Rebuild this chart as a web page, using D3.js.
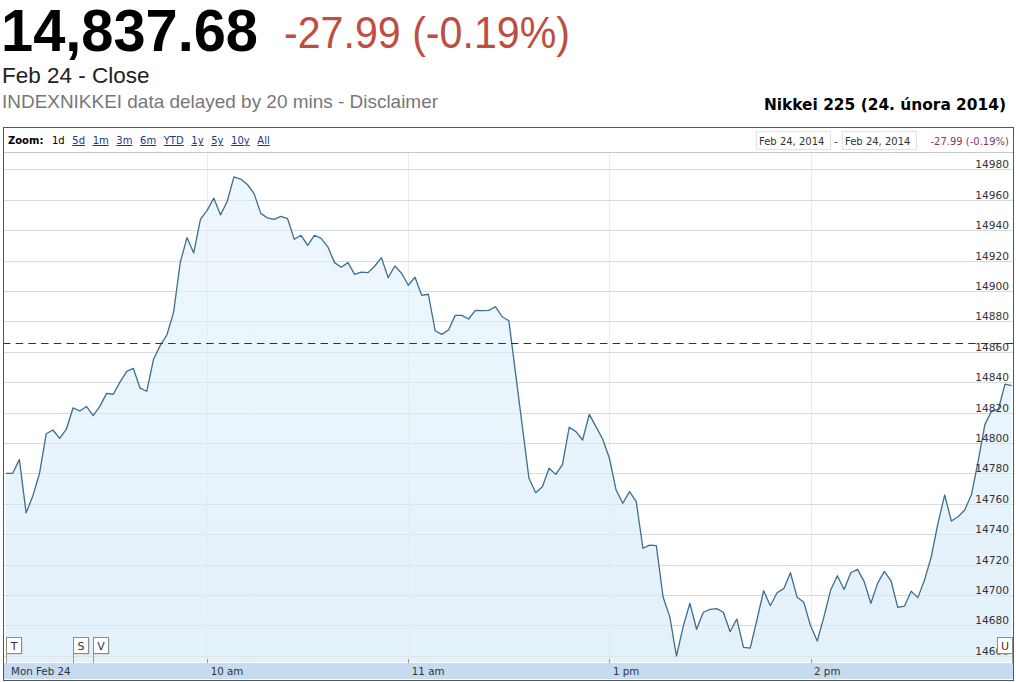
<!DOCTYPE html>
<html>
<head>
<meta charset="utf-8">
<script src="https://cdn.jsdelivr.net/npm/d3@7"></script>
<style>
  html, body { margin: 0; padding: 0; background: #fff; }
  svg { display: block; }
</style>
</head>
<body>
<svg id="chart" width="1016" height="682"></svg>
<script>
// ---------------- DATA ----------------
const lastPrice = "14,837.68";
const changeText = "-27.99 (-0.19%)";
const sessionText = "Feb 24 - Close";
const delayText = "INDEXNIKKEI data delayed by 20 mins - Disclaimer";
const chartTitle = "Nikkei 225 (24. února 2014)";
const previousClose = 14865.67;

const zoomLabel = "Zoom:";
const zoomOptions = ["1d", "5d", "1m", "3m", "6m", "YTD", "1y", "5y", "10y", "All"];
const selectedZoom = "1d";
const rangeFrom = "Feb 24, 2014";
const rangeTo = "Feb 24, 2014";

// morning session: 09:00 .. 11:30, every 2 minutes
const morningStart = "09:00";
const morningValues = [
  14780, 14780, 14789, 14754, 14765, 14780, 14806, 14808.5, 14803, 14809,
  14823, 14821, 14824, 14818, 14824, 14832.6, 14832, 14840, 14847, 14849,
  14836, 14834, 14855, 14864, 14871, 14886, 14919, 14935, 14925, 14947,
  14953, 14961, 14950, 14959, 14975, 14973.6, 14970, 14964, 14951, 14948,
  14947, 14949, 14947.5, 14934, 14936.6, 14930, 14936.6, 14934.6, 14929, 14918.6,
  14915.5, 14918.6, 14910.9, 14912.4, 14912, 14916.4, 14921.9, 14908.7, 14916.4, 14911.6,
  14903.7, 14909, 14897.1, 14897.8, 14873.8, 14871.4, 14874.3, 14883.9, 14883.9, 14881.5,
  14887.2, 14887, 14887.2, 14889.6, 14883, 14880.4
];
// afternoon session: 12:36 .. 15:00, every 2 minutes
const afternoonStart = "12:36";
const afternoonValues = [
  14776.7, 14767.2, 14771.2, 14783.3, 14779.3, 14785.7, 14810.3, 14807.4, 14801.9, 14818.8,
  14810.7, 14802.4, 14789.9, 14769, 14760.3, 14767.9, 14761.3, 14730.7, 14732.8, 14732.4,
  14698.6, 14685.7, 14659.8, 14679.1, 14694.5, 14677.4, 14688.6, 14690.5, 14691, 14688.6,
  14675.8, 14684.1, 14665.5, 14665, 14683.5, 14702.8, 14692.9, 14701.4, 14704.1, 14714.6,
  14698.4, 14695.1, 14679.7, 14669.7, 14685.7, 14703.2, 14712.6, 14703.6, 14714.6, 14716.8,
  14708.7, 14694.5, 14707.6, 14715.5, 14709.3, 14691.8, 14692.6, 14702.4, 14698.2, 14709.8,
  14725.1, 14747.1, 14765.7, 14748.6, 14751.4, 14755.9, 14766, 14788, 14812, 14821,
  14822, 14838.7, 14837.68
];
const stepMinutes = 2;

const yTicks = [14660, 14680, 14700, 14720, 14740, 14760, 14780, 14800, 14820, 14840,
                14860, 14880, 14900, 14920, 14940, 14960, 14980];
const xTickTimes = ["09:00", "10:00", "11:00", "13:00", "14:00"];
const xTickLabels = ["Mon Feb 24", "10 am", "11 am", "1 pm", "2 pm"];

const flagTimes = ["09:00", "09:20", "09:26", "15:00"];
const flagLetters = ["T", "S", "V", "U"];
const flagSides = ["right", "right", "right", "left"];

// ---------------- HELPERS ----------------
function parseHM(s) { const p = s.split(":"); return +p[0] * 60 + +p[1]; }
// trading minutes since 09:00 with the 11:30-12:30 lunch break removed
function tradingMinute(totalMin) {
  let m = totalMin - 540;
  if (m >= 210) m -= 60;
  return m;
}
function seriesFrom(start, values) {
  const s = parseHM(start);
  return values.map((v, i) => ({ t: s + i * stepMinutes, v }));
}
const data = seriesFrom(morningStart, morningValues).concat(seriesFrom(afternoonStart, afternoonValues));

// ---------------- LAYOUT ----------------
const svg = d3.select("#chart");
const box = { left: 3, right: 1013, top: 127, bottom: 680 };
const plot = { left: 3, right: 1013, top: 153, bottom: 662 };

const x = d3.scaleLinear().domain([0, 300]).range([6, 1011.7]);
const y = d3.scaleLinear().domain([14660, 14980]).range([655.7, 169.3]);
const xt = t => x(tradingMinute(t));

const SANS = "'Liberation Sans', Arial, sans-serif";
const VERD = "'DejaVu Sans', Verdana, sans-serif";

// ---------------- HEADER ----------------
svg.append("text").attr("x", 1).attr("y", 51)
  .attr("font-family", SANS).attr("font-weight", "bold").attr("font-size", 60)
  .attr("textLength", 257).attr("lengthAdjust", "spacingAndGlyphs")
  .attr("fill", "#000").text(lastPrice);
svg.append("text").attr("x", 284).attr("y", 48)
  .attr("font-family", SANS).attr("font-size", 44)
  .attr("textLength", 286).attr("lengthAdjust", "spacingAndGlyphs")
  .attr("fill", "#bd4e42").text(changeText);
svg.append("text").attr("x", 2).attr("y", 83)
  .attr("font-family", SANS).attr("font-size", 22.5)
  .attr("fill", "#222").text(sessionText);
svg.append("text").attr("x", 2).attr("y", 108)
  .attr("font-family", SANS).attr("font-size", 18.6)
  .attr("textLength", 436).attr("lengthAdjust", "spacingAndGlyphs")
  .attr("fill", "#777").text(delayText);
svg.append("text").attr("x", 1006).attr("y", 110).attr("text-anchor", "end")
  .attr("font-family", VERD).attr("font-weight", "bold").attr("font-size", 15.4)
  .attr("fill", "#000").text(chartTitle);

// ---------------- CHART BOX ----------------
svg.append("rect").attr("x", box.left + 0.5).attr("y", box.top + 0.5)
  .attr("width", box.right - box.left).attr("height", box.bottom - box.top)
  .attr("fill", "#fff").attr("stroke", "none");

// zoom bar
const zb = svg.append("g");
zb.append("text").attr("x", 8).attr("y", 144)
  .attr("font-family", VERD).attr("font-weight", "bold").attr("font-size", 10)
  .attr("fill", "#000").text(zoomLabel);
let zx = 52;
zoomOptions.forEach(o => {
  const sel = o === selectedZoom;
  const t = zb.append("text").attr("x", zx).attr("y", 144)
    .attr("font-family", VERD).attr("font-size", 10)
    .attr("fill", sel ? "#000" : "#22338f")
    .attr("text-decoration", sel ? "none" : "underline")
    .text(o);
  zx += t.node().getComputedTextLength() + 7.6;
});

// range boxes
function rangeBox(x0, label) {
  zb.append("rect").attr("x", x0 + 0.5).attr("y", 131.5).attr("width", 74).attr("height", 18)
    .attr("fill", "#fff").attr("stroke", "#e2e2e2");
  zb.append("text").attr("x", x0 + 3).attr("y", 145)
    .attr("font-family", VERD).attr("font-size", 10).attr("fill", "#333").text(label);
}
rangeBox(756, rangeFrom);
zb.append("text").attr("x", 834).attr("y", 145)
  .attr("font-family", VERD).attr("font-size", 10).attr("fill", "#333").text("-");
rangeBox(842, rangeTo);
zb.append("text").attr("x", 1009).attr("y", 145).attr("text-anchor", "end")
  .attr("font-family", VERD).attr("font-size", 10).attr("fill", "#8a3563").text(changeText);

svg.append("line").attr("x1", box.left).attr("x2", box.right)
  .attr("y1", 152.5).attr("y2", 152.5).attr("stroke", "#c8c8c8");

// ---------------- PLOT ----------------
const defs = svg.append("defs");
const grad = defs.append("linearGradient").attr("id", "fillGrad")
  .attr("gradientUnits", "userSpaceOnUse")
  .attr("x1", 0).attr("x2", 0).attr("y1", plot.top).attr("y2", plot.bottom);
grad.append("stop").attr("offset", 0).attr("stop-color", "#eef7fd");
grad.append("stop").attr("offset", 1).attr("stop-color", "#e2f0fa");
defs.append("clipPath").attr("id", "plotClip").append("rect")
  .attr("x", plot.left).attr("y", plot.top)
  .attr("width", plot.right - plot.left - 0.5).attr("height", plot.bottom - plot.top);

// vertical faint hour lines
const hourTimes = xTickTimes.slice(1).map(parseHM);
svg.append("g").selectAll("line").data(hourTimes).join("line")
  .attr("x1", d => Math.round(xt(d)) + 0.5).attr("x2", d => Math.round(xt(d)) + 0.5)
  .attr("y1", plot.top).attr("y2", plot.bottom)
  .attr("stroke", "#efefef");

// horizontal grid
svg.append("g").selectAll("line").data(yTicks).join("line")
  .attr("x1", plot.left).attr("x2", plot.right)
  .attr("y1", d => Math.round(y(d)) + 0.5).attr("y2", d => Math.round(y(d)) + 0.5)
  .attr("stroke", "#d8d8d8");

const area = d3.area().x(d => xt(d.t)).y0(plot.bottom).y1(d => y(d.v));
const line = d3.line().x(d => xt(d.t)).y(d => y(d.v));
const pg = svg.append("g").attr("clip-path", "url(#plotClip)");
pg.append("path").datum(data).attr("d", area).attr("fill", "url(#fillGrad)").attr("fill-opacity", 0.95);
pg.append("g").selectAll("line").data(yTicks).join("line")
  .attr("x1", plot.left).attr("x2", plot.right)
  .attr("y1", d => Math.round(y(d)) + 0.5).attr("y2", d => Math.round(y(d)) + 0.5)
  .attr("stroke", "#d4dde3").attr("stroke-opacity", 0.6);
pg.append("g").selectAll("line").data(hourTimes).join("line")
  .attr("x1", d => Math.round(xt(d)) + 0.5).attr("x2", d => Math.round(xt(d)) + 0.5)
  .attr("y1", plot.top).attr("y2", plot.bottom)
  .attr("stroke", "#dfe9f0").attr("stroke-opacity", 0.6);

// previous close dashed line
svg.append("line").attr("x1", plot.left).attr("x2", plot.right)
  .attr("y1", Math.round(y(previousClose)) + 0.5).attr("y2", Math.round(y(previousClose)) + 0.5)
  .attr("stroke", "#6b1a1a").attr("stroke-dasharray", "7.5,5.2");

pg.append("path").datum(data).attr("d", line)
  .attr("fill", "none").attr("stroke", "#3b6e92").attr("stroke-width", 1.3)
  .attr("stroke-linejoin", "round");

// y labels (right side)
svg.append("g").selectAll("text").data(yTicks).join("text")
  .attr("x", 1009).attr("y", d => Math.round(y(d)) - 1)
  .attr("text-anchor", "end")
  .attr("font-family", VERD).attr("font-size", 10.6).attr("fill", "#333")
  .text(d => d);

// ---------------- FLAGS ----------------
flagTimes.forEach((t, i) => {
  const ax = Math.round(xt(parseHM(t)));
  const w = 15, h = 16, top = 637;
  const bx = flagSides[i] === "right" ? ax : ax - w;
  const g = svg.append("g");
  g.append("line").attr("x1", ax + 0.5).attr("x2", ax + 0.5)
    .attr("y1", top + h).attr("y2", plot.bottom + 1).attr("stroke", "#999");
  g.append("rect").attr("x", bx + 1.5).attr("y", top + 1.5).attr("width", w).attr("height", h)
    .attr("fill", "#c9c9c9");
  g.append("rect").attr("x", bx + 0.5).attr("y", top + 0.5).attr("width", w).attr("height", h)
    .attr("fill", "#fff").attr("stroke", "#8c8c8c");
  g.append("text").attr("x", bx + w / 2 + 0.5).attr("y", top + 13)
    .attr("text-anchor", "middle")
    .attr("font-family", VERD).attr("font-size", 11).attr("fill", "#333")
    .text(flagLetters[i]);
});

// ---------------- X AXIS BAND ----------------
svg.append("rect").attr("x", plot.left).attr("y", 663)
  .attr("width", plot.right - plot.left).attr("height", 16)
  .attr("fill", "#c5dbf0");
const tickMins = xTickTimes.map(parseHM);
svg.append("g").selectAll("line").data(tickMins).join("line")
  .attr("x1", d => Math.round(xt(d)) + 0.5).attr("x2", d => Math.round(xt(d)) + 0.5)
  .attr("y1", 659).attr("y2", 663).attr("stroke", "#999");
svg.append("g").selectAll("text").data(tickMins).join("text")
  .attr("x", (d, i) => xt(d) + (i === 0 ? 5 : 3.5)).attr("y", 674.5)
  .attr("font-family", VERD).attr("font-size", 10.3).attr("fill", "#333")
  .text((d, i) => xTickLabels[i]);

// outer border
svg.append("rect").attr("x", box.left + 0.5).attr("y", box.top + 0.5)
  .attr("width", box.right - box.left).attr("height", box.bottom - box.top)
  .attr("fill", "none").attr("stroke", "#555");
</script>
</body>
</html>
